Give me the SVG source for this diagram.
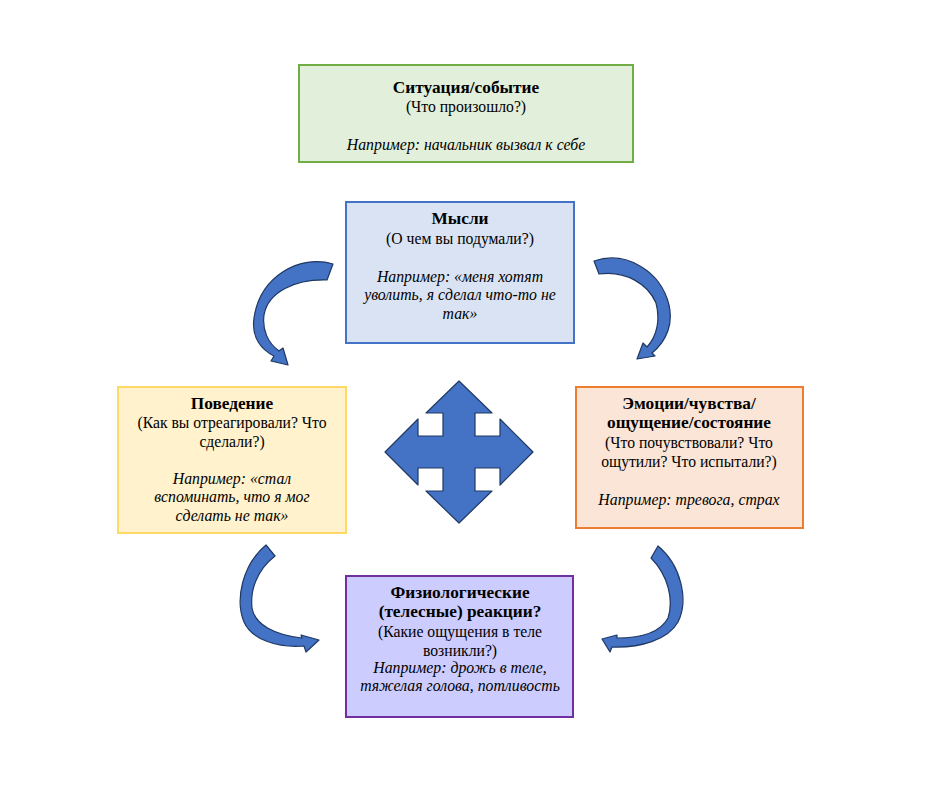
<svg xmlns="http://www.w3.org/2000/svg" width="944" height="788" viewBox="0 0 944 788">
<style>
text{font-family:'Liberation Serif','Times New Roman',serif;font-size:15.7px;fill:#000;text-anchor:middle}
.b{font-weight:bold;font-size:17.3px}
.i{font-style:italic;font-size:15.8px}
.box{stroke-width:2}
.arr{fill:#4472C4;stroke:#1F3864;stroke-width:1.2;stroke-linejoin:round}
</style>
<rect width="944" height="788" fill="#fff"/>
<g id="situation">
<rect class="box" x="299" y="65" width="334" height="97" fill="#E2EFDA" stroke="#70AD47"/>
<text class="b" x="466" y="93">Ситуация/событие</text>
<text x="466" y="112">(Что произошло?)</text>
<text class="i" x="466" y="150">Например: начальник вызвал к себе</text>
</g>
<g id="thoughts">
<rect class="box" x="346" y="202" width="228" height="141" fill="#DAE3F3" stroke="#4472C4"/>
<text class="b" x="460" y="224">Мысли</text>
<text x="460" y="244">(О чем вы подумали?)</text>
<text class="i" x="460" y="282">Например: «меня хотят</text>
<text class="i" x="460" y="300">уволить, я сделал что-то не</text>
<text class="i" x="460" y="319">так»</text>
</g>
<g id="behavior">
<rect class="box" x="118" y="387" width="228" height="146" fill="#FFF2CC" stroke="#FFD966"/>
<text class="b" x="232" y="409">Поведение</text>
<text x="232" y="428">(Как вы отреагировали? Что</text>
<text x="232" y="447">сделали?)</text>
<text class="i" x="232" y="484">Например: «стал</text>
<text class="i" x="232" y="502">вспоминать, что я мог</text>
<text class="i" x="232" y="521">сделать не так»</text>
</g>
<g id="emotions">
<rect class="box" x="576" y="387" width="227" height="141" fill="#FBE5D6" stroke="#ED7D31"/>
<text class="b" x="689" y="409">Эмоции/чувства/</text>
<text class="b" x="689" y="428">ощущение/состояние</text>
<text x="689" y="448">(Что почувствовали? Что</text>
<text x="689" y="467">ощутили? Что испытали?)</text>
<text class="i" x="689" y="505">Например: тревога, страх</text>
</g>
<g id="physiology">
<rect class="box" x="346" y="576" width="227" height="141" fill="#CCCCFF" stroke="#7030A0"/>
<text class="b" x="460" y="598">Физиологические</text>
<text class="b" x="460" y="617">(телесные) реакции?</text>
<text x="460" y="637">(Какие ощущения в теле</text>
<text x="460" y="656">возникли?)</text>
<text class="i" x="460" y="673">Например: дрожь в теле,</text>
<text class="i" x="460" y="691">тяжелая голова, потливость</text>
</g>
<g id="center-arrow">
<path class="arr" stroke-width="2" d="M459,381 L492,413 L475,413 L475,436 L500,436 L500,419 L533,452 L500,485 L500,468 L475,468 L475,491 L492,491 L459,523 L426,491 L443,491 L443,468 L418,468 L418,485 L385,452 L418,419 L418,436 L443,436 L443,413 L426,413 Z"/>
</g>
<g id="connectors">
<path class="arr" d="M333,264 C300,254 260,276 254,318 C251,338 262,350 274,356 L271,361 L288,365 L283,348 L279,351 C268,343 262,330 264,315 C268,292 295,279 327,280 Z"/>
<path class="arr" d="M594,261 C627,250 661,272 669,305 C673,322 668,340 652,353 L655,356 L637,359 L643,343 L647,347 C658,335 660,318 656,303 C648,284 625,270 599,274 Z"/>
<path class="arr" d="M266,545 L275,556 C257,570 250,590 252,608 C255,625 275,635 302,638 L301,635 L319,640 L306,652 L304,646 C278,648 252,640 244,622 C235,600 242,565 266,545 Z"/>
<path class="arr" d="M658,546 L651,558 C668,575 674,600 668,618 C660,633 640,638 617,638 L617,635 L602,639 L610,652 L612,647 C640,648 668,640 678,622 C689,600 681,565 658,546 Z"/>
</g>
</svg>
